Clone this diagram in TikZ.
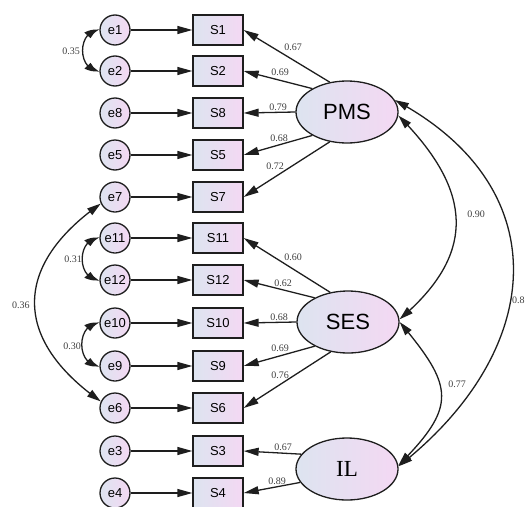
\documentclass[tikz,border=0pt]{standalone}
\usepackage{fontspec}
\setmainfont{Liberation Serif}
\setsansfont{Liberation Sans}
\usetikzlibrary{arrows.meta,shapes.geometric,bending}
\definecolor{gl}{RGB}{221,228,240}
\definecolor{gr}{RGB}{244,216,243}
\definecolor{ink}{RGB}{30,30,30}
\begin{document}
\begin{tikzpicture}[x=1pt,y=-1pt,
  ln/.style={line width=1.3pt, draw=ink},
  tip/.style={ln,-{Triangle[length=15pt,width=8pt]}},
  dtip/.style={ln,{Triangle[length=14pt,width=8pt,bend]}-{Triangle[length=14pt,width=8pt,bend]}},
  errnode/.style={circle, draw=ink, line width=1.3pt, minimum size=30pt, inner sep=0pt,
     left color=gl, right color=gr, font=\sffamily\fontsize{13}{13}\selectfont},
  obs/.style={rectangle, draw=ink, line width=1.3pt, minimum width=50pt, minimum height=30pt,
     inner sep=0pt, left color=gl, right color=gr, font=\sffamily\fontsize{13}{13}\selectfont},
  lat/.style={ellipse, draw=ink, line width=1.3pt, minimum width=102pt, minimum height=62pt,
     inner sep=0pt, left color=gl, right color=gr},
  coef/.style={font=\fontsize{10}{10}\selectfont, text=black!75, inner sep=0pt}
]
\useasboundingbox (0,0) rectangle (526,506);

% error terms and indicators
\foreach \e/\s/\y in {1/1/30, 2/2/71, 8/8/113, 5/5/155, 7/7/197, 11/11/238, 12/12/280,
                      10/10/323, 9/9/366, 6/6/408, 3/3/451, 4/4/493}{
  \node[errnode] (e\e) at (115,\y) {e\e};
  \node[obs] (S\s) at (218,\y) {S\s};
  \draw[tip] (e\e.east) -- (S\s.west);
}

% latent variables
\node[lat, font=\sffamily\fontsize{22}{22}\selectfont] (PMS) at (347,112) {PMS};
\node[lat, font=\sffamily\fontsize{22}{22}\selectfont] (SES) at (348,322) {SES};
\node[lat, font=\fontsize{23}{23}\selectfont] (IL) at (347,469) {IL};

% loadings PMS
\draw[tip] (PMS.120) -- (S1.east);
\draw[tip] (PMS.146) -- (S2.east);
\draw[tip] (PMS.180) -- (S8.east);
\draw[tip] (PMS.214) -- (S5.east);
\draw[tip] (PMS.240) -- (S7.east);
\node[coef] (l1) at (293,47) {0.67};
\node[coef] (l2) at (280,72) {0.69};
\node[coef] (l3) at (278,107) {0.79};
\node[coef] (l4) at (279,138) {0.68};
\node[coef] (l5) at (275,166) {0.72};

% loadings SES
\draw[tip] (SES.121) -- (S11.east);
\draw[tip] (SES.144) -- (S12.east);
\draw[tip] (SES.180) -- (S10.east);
\draw[tip] (SES.216) -- (S9.east);
\draw[tip] (SES.240) -- (S6.east);
\node[coef] (l6) at (293,257) {0.60};
\node[coef] (l7) at (283,283) {0.62};
\node[coef] (l8) at (279,317) {0.68};
\node[coef] (l9) at (280,348) {0.69};
\node[coef] (l10) at (280,375) {0.76};

% loadings IL
\draw[tip] (IL.162) -- (S3.east);
\draw[tip] (IL.196) -- (S4.east);
\node[coef] (l11) at (283,447) {0.67};
\node[coef] (l12) at (277,481) {0.89};

% error covariances
\draw[dtip] (e1.west) to[out=180,in=180,looseness=1.4] (e2.west);
\node[coef] (c1) at (71,51) {0.35};
\draw[dtip] (e11.west) to[out=180,in=180,looseness=1.4] (e12.west);
\node[coef] (c2) at (73,259) {0.31};
\draw[dtip] (e10.west) to[out=180,in=180,looseness=1.4] (e9.west);
\node[coef] (c3) at (72,346) {0.30};
\draw[dtip] (e7.205) to[out=215,in=145,looseness=1.4] (e6.155);
\node[coef] (c4) at (21,305) {0.36};

% latent covariances
\draw[dtip] (PMS.-4) to[out=-45,in=40,looseness=1.3] (SES.3);
\node[coef] (c5) at (476,214) {0.90};
\draw[dtip] (PMS.14) to[out=-28,in=38,looseness=1.3] (IL.3);
\node[coef, anchor=west] (c6) at (512,300) {0.8};
\draw[dtip] (SES.0) to[out=-50,in=45,looseness=1.5] (IL.4);
\node[coef] (c7) at (457,384) {0.77};
\end{tikzpicture}
\end{document}
